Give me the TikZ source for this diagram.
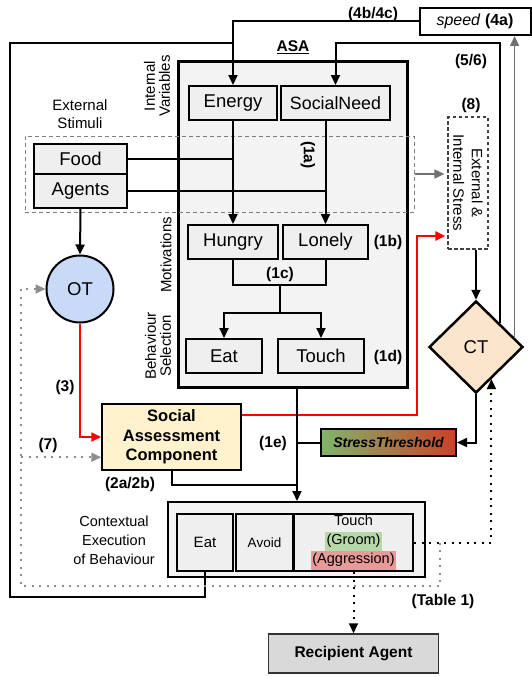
\documentclass[tikz,border=0pt]{standalone}
\usepackage{fontspec}
\setmainfont{Liberation Sans}
\usetikzlibrary{arrows.meta,shapes.geometric,calc}
\definecolor{asafill}{HTML}{F3F3F3}
\definecolor{bxfill}{HTML}{EFEFEF}
\definecolor{otfill}{HTML}{C9DAF8}
\definecolor{ctfill}{HTML}{FCE5CD}
\definecolor{sacfill}{HTML}{FFF2CC}
\definecolor{recfill}{HTML}{D9D9D9}
\definecolor{groomc}{HTML}{B6D7A8}
\definecolor{aggrc}{HTML}{EA9999}
\definecolor{stgreen}{HTML}{6AA84F}
\definecolor{stred}{HTML}{CC4125}
\definecolor{stmid}{HTML}{F6F2E6}
\definecolor{greyln}{HTML}{707070}
\definecolor{redln}{HTML}{FF0000}
\newcommand\FBig{\fontsize{18.5pt}{21pt}\selectfont}
\newcommand\FSN{\fontsize{17.8pt}{21pt}\selectfont}
\newcommand\FMid{\fontsize{15pt}{18.5pt}\selectfont}
\newcommand\FRot{\fontsize{15pt}{15pt}\selectfont}
\newcommand\FLab{\fontsize{15.5pt}{18pt}\selectfont}
\newcommand\FSac{\fontsize{16.5pt}{19.5pt}\selectfont}
\newcommand\FCtx{\fontsize{14.5pt}{19pt}\selectfont}
\newcommand\HiLite[2]{{\setlength\fboxsep{0pt}\colorbox{#1}{\strut\hspace{1.5pt}#2\hspace{1.5pt}}}}
\begin{document}
\begin{tikzpicture}[x=1pt,y=-1pt,line join=miter,
  bx/.style={draw,line width=2pt,fill=bxfill,inner sep=0pt,font=\FBig},
  lab/.style={font=\FLab\bfseries,inner sep=0pt},
  txt/.style={font=\FMid,inner sep=0pt,align=center},
  conn/.style={line width=2pt},
  arr/.style={conn,-{Triangle[length=10pt,width=9pt]}},
  rarr/.style={line width=2pt,draw=redln,-{Triangle[length=10pt,width=9pt]}},
  garr/.style={line width=1.6pt,draw=greyln,-{Triangle[length=10pt,width=9pt]}},
  bdots/.style={line width=2pt,dash pattern=on 2pt off 5.5pt},
  gdots/.style={line width=2pt,draw=greyln!80,dash pattern=on 2pt off 5.5pt},
]
\useasboundingbox (0,0) rectangle (532,677);

% ASA box
\node[draw,line width=3pt,fill=asafill,minimum width=229pt,minimum height=325pt,inner sep=0pt] (asa) at (292.5,224.5) {};
\node[font=\FLab,inner sep=0pt] (asalbl) at (293,47) {\underline{\textbf{ASA}}};

% external stimuli region
\node[draw=greyln!90,line width=1pt,dash pattern=on 4pt off 3pt,minimum width=389pt,minimum height=76pt,inner sep=0pt] (stimreg) at (219.5,174) {};

% boxes in ASA
\node[bx,minimum width=88pt,minimum height=34pt] (energy) at (233,103) {Energy};
\node[bx,font=\FSN,minimum width=109pt,minimum height=34pt] (socialneed) at (335.5,103) {SocialNeed};
\node[bx,minimum width=90pt,minimum height=34pt] (hungry) at (233,242) {Hungry};
\node[bx,minimum width=85pt,minimum height=34pt] (lonely) at (325.5,242) {Lonely};
\node[bx,minimum width=76pt,minimum height=34pt] (eat) at (224,356) {Eat};
\node[bx,minimum width=86pt,minimum height=34pt] (touch) at (321,356) {Touch};

% stimuli
\node[bx,minimum width=93pt,minimum height=30pt] (food) at (80.5,159) {Food};
\node[bx,minimum width=93pt,minimum height=34pt] (agents) at (80.5,191) {Agents};

% side labels
\node[txt] (extst) at (80,114) {External\\Stimuli};
\node[txt,font=\FRot,rotate=90] (intvar) at (157,86) {Internal\\Variables};
\node[txt,rotate=90] (motiv) at (166,255) {Motivations};
\node[txt,font=\FRot,rotate=90] (behsel) at (158,346) {Behaviour\\Selection};

% stress box
\node[draw=black!75,line width=1.2pt,dash pattern=on 3.5pt off 2.5pt,fill=white,minimum width=40pt,minimum height=132pt,inner sep=0pt] (stress) at (468,183) {};
\node[txt,rotate=-90] (stresstxt) at (stress.center) {External \&\\Internal Stress};

% OT, CT, SAC
\node[circle,draw,line width=2pt,fill=otfill,minimum size=67pt,inner sep=0pt,font=\FBig] (ot) at (80,289) {OT};
\node[diamond,draw,line width=2.5pt,fill=ctfill,minimum width=94pt,minimum height=92pt,inner sep=0pt,font=\FBig] (ct) at (476,347) {CT};
\node[draw,line width=1.5pt,fill=sacfill,minimum width=139pt,minimum height=66pt,inner sep=0pt,align=center,font=\FSac\bfseries] (sac) at (171.5,437) {Social\\Assessment\\Component};
\node[draw,line width=2pt,left color=stgreen!85,middle color=stmid,right color=stred,minimum width=135pt,minimum height=27pt,inner sep=0pt,font=\fontsize{14pt}{16pt}\selectfont\bfseries\itshape] (stthr) at (388.5,442.5) {StressThreshold};

% speed
\node[draw,line width=2pt,fill=white,minimum width=111pt,minimum height=27pt,inner sep=0pt,font=\fontsize{16pt}{18pt}\selectfont] (speed) at (475,21.5) {\textit{speed} \textbf{(4a)}};

% contextual execution
\node[draw,line width=2pt,fill=asafill,minimum width=257pt,minimum height=75pt,inner sep=0pt] (ctx) at (296.5,539.5) {};
\node[bx,font=\fontsize{15pt}{18pt}\selectfont,minimum width=56pt,minimum height=57pt] (ceat) at (205,542.5) {Eat};
\node[bx,font=\fontsize{13.5pt}{16pt}\selectfont,minimum width=57pt,minimum height=57pt] (cavoid) at (264.5,542.5) {Avoid};
\node[bx,font=\FCtx,align=center,minimum width=119pt,minimum height=57pt] (ctouch) at (353.5,542.5) {Touch\\\HiLite{groomc}{(Groom)}\\\HiLite{aggrc}{(Aggression)}};
\node[txt,font=\FCtx] (ctxlbl) at (114,540) {Contextual\\Execution\\of Behaviour};

% recipient
\node[draw=black!80,line width=1.5pt,fill=recfill,minimum width=170pt,minimum height=39pt,inner sep=0pt,font=\fontsize{15.5pt}{18pt}\selectfont\bfseries] (recip) at (353.5,653.5) {Recipient Agent};

% step labels
\node[lab] (l4b) at (373,14) {(4b/4c)};
\node[lab] (l56) at (471,61) {(5/6)};
\node[lab] (l8) at (471,105) {(8)};
\node[lab,rotate=-90] (l1a) at (308,155) {(1a)};
\node[lab] (l1b) at (388,242) {(1b)};
\node[lab] (l1c) at (280,274) {(1c)};
\node[lab] (l1d) at (388,357) {(1d)};
\node[lab] (l1e) at (273,443) {(1e)};
\node[lab] (l3) at (65,387) {(3)};
\node[lab] (l7) at (48,445) {(7)};
\node[lab] (l2a) at (130,484) {(2a/2b)};
\node[lab] (ltab) at (443,601) {(Table 1)};

% coordinates
\coordinate (oltop) at (10,43);
\coordinate (olbot) at (10,597);
\coordinate (top56) at (0,43);
\coordinate (g1) at ($(ct.north east)!0.6!(ct.east)$);
\coordinate (c1c) at (280,285);
\coordinate (c1d) at (280,313);
\coordinate (sacr) at ($(sac.north east)!0.18!(sac.south east)$);
\coordinate (rcorner) at (417,236);
\coordinate (col) at (297,0);
\coordinate (j2) at (297,485);
\coordinate (ctin) at ($(ct.south)!0.64!(ct.south east)$);
\coordinate (gdx) at (440,0);
\coordinate (gd3) at (21,586);
\coordinate (sac7) at ($(sac.north west)!0.8!(sac.south west)$);

% connectors
\draw[arr] (speed.west) -| (energy.north);
\draw[conn] (ceat.south) |- (olbot) -- (oltop) -- (oltop -| energy.north);
\draw[arr] (ct.north east) -- (ct.north east |- top56) -| (socialneed.north);
\draw[garr] (g1) -- (g1 |- speed.south);
\draw[garr,shorten >=3pt] (stimreg.east) -- (stimreg.east -| stress.west);
\draw[conn] (food.east) -- (food.east -| hungry.north);
\draw[conn] (agents.east) -- (agents.east -| lonely.north);
\draw[arr] (energy.south -| hungry.north) -- (hungry.north);
\draw[arr] (socialneed.south -| lonely.north) -- (lonely.north);
\draw[conn] (hungry.south) |- (c1c) -| (lonely.south);
\draw[conn] (c1c) -- (c1d);
\draw[arr] (c1d) -| (eat.north);
\draw[arr] (c1d) -| (touch.north);
\draw[arr] (agents.south) -- (ot.north);
\draw[rarr] (ot.south) |- (sac.west);
\draw[rarr,shorten >=2pt] (sacr) -| (rcorner) -- (rcorner -| stress.west);
\draw[arr] (stress.south -| ct.north) -- (ct.north);
\draw[arr] (ct.south) |- (stthr.east);
\draw[arr] (asa.south -| col) -- (col |- ctx.north);
\draw[conn] (stthr.west) -- (stthr.west -| col);
\draw[conn] (sac.south) |- (j2);
\draw[bdots,-{Triangle[length=10pt,width=9pt]}] (ctouch.east) -| (ctin);
\draw[gdots,-{Triangle[length=10pt,width=9pt]}] (ctouch.east -| gdx) |- (gd3) |- (ot.west);
\draw[gdots,-{Triangle[length=10pt,width=9pt]}] (gd3 |- sac7) -- (sac7);
\draw[bdots,-{Triangle[length=10pt,width=9pt]}] (ctouch.south) -- (recip.north);
\end{tikzpicture}
\end{document}
